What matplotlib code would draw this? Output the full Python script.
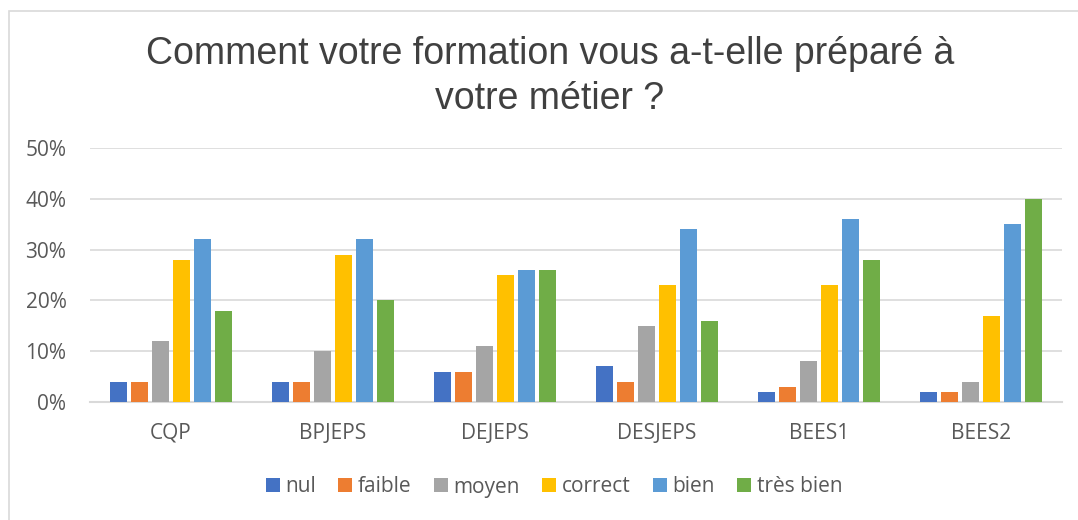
import matplotlib
matplotlib.use("Agg")
import matplotlib.pyplot as plt
import numpy as np
from matplotlib.patches import Rectangle

categories = ["CQP", "BPJEPS", "DEJEPS", "DESJEPS", "BEES1", "BEES2"]
series_names = ["nul", "faible", "moyen", "correct", "bien", "très bien"]
nul = [4, 4, 6, 7, 2, 2]
faible = [4, 4, 6, 4, 3, 2]
moyen = [12, 10, 11, 15, 8, 4]
correct = [28, 29, 25, 23, 23, 17]
bien = [32, 32, 26, 34, 36, 35]
tres_bien = [18, 20, 26, 16, 28, 40]
series = [nul, faible, moyen, correct, bien, tres_bien]
colors = ["#4472C4", "#ED7D31", "#A5A5A5", "#FFC000", "#5B9BD5", "#70AD47"]
yticks = [0, 10, 20, 30, 40, 50]
title_lines = ["Comment votre formation vous a-t-elle préparé à", "votre métier ?"]

fig = plt.figure(figsize=(10.78, 5.2), dpi=100)
# chart border
fig.patches.append(Rectangle((8.5/1078, -0.01), 1.2, 1 - 10.5/520 + 0.01,
                             transform=fig.transFigure, fill=False,
                             edgecolor="#D9D9D9", linewidth=1.2))

ax = fig.add_axes([90/1078, 1 - 402/520, (1062-90)/1078, (402-148)/520])
x = np.arange(len(categories))
slot = 0.1286
bw = 0.105
for i, (name, vals, c) in enumerate(zip(series_names, series, colors)):
    ax.bar(x + (i - 2.5) * slot, vals, width=bw, color=c, label=name, zorder=3)

ax.set_xlim(-0.5, len(categories) - 0.5)
ax.set_ylim(0, 50)
ax.set_yticks(yticks)
ax.set_yticklabels([f"{v}%" for v in yticks])
ax.set_xticks(x)
ax.set_xticklabels(categories)
ax.tick_params(axis="both", length=0, labelsize=15, labelcolor="#595959")
ax.tick_params(axis="y", pad=17)
ax.tick_params(axis="x", pad=15)
for lab in ax.get_xticklabels() + ax.get_yticklabels():
    lab.set_family("Open Sans")
ax.grid(axis="y", color="#D9D9D9", linewidth=1.2, zorder=0)
for s in ["top", "right", "left"]:
    ax.spines[s].set_visible(False)
ax.spines["bottom"].set_color("#D9D9D9")
ax.spines["bottom"].set_linewidth(1.5)

for line, ybase in zip(title_lines, [64, 109]):
    fig.text(550/1078, 1 - ybase/520, line, ha="center", va="baseline",
             fontsize=27, color="#404040", family="Liberation Sans")

leg = fig.legend(loc="center", bbox_to_anchor=(554/1078, 1 - 487/520), ncol=6,
                 frameon=False, handlelength=0.67, handleheight=0.67,
                 handletextpad=0.25, columnspacing=1.09,
                 prop={"family": "Open Sans", "size": 15})
for t in leg.get_texts():
    t.set_color("#595959")

fig.savefig("out.png", dpi=100)
